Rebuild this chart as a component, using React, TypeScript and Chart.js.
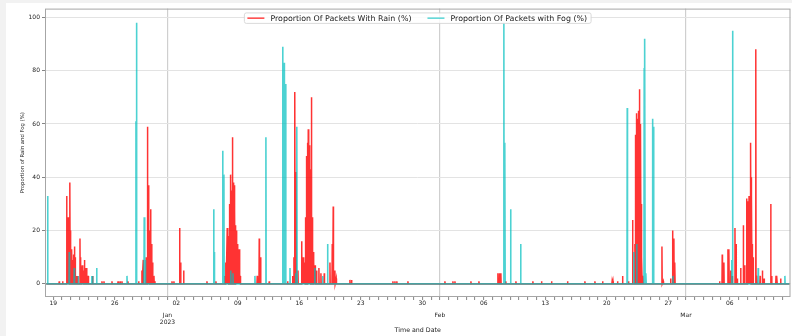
import React, { useEffect, useRef } from "react";
import { Chart, registerables } from "chart.js";

Chart.register(...registerables);

// x values are days since 2022-12-19 00:00
const rainDays = [
  0.68, 1.07, 1.52, 1.58, 1.64, 1.7, 1.78, 1.9, 1.96, 2.01, 2.07, 2.13, 2.2, 2.28, 2.34, 2.39, 2.45, 2.5, 2.66, 2.77,
  3.04, 3.1, 3.15, 3.22, 3.3, 3.41, 3.53, 3.6, 3.68, 3.8, 3.98,
  4.48, 5.54, 5.77, 6.68, 7.37, 7.6, 7.82, 8.5,
  9.72, 10.09, 10.24, 10.58, 10.7, 10.81, 10.92, 11.08, 11.2, 11.31, 11.46, 11.57,
  13.51, 13.73, 14.38, 14.5, 14.84, 17.49, 18.51,
  19.54, 19.65, 19.8, 19.91, 19.95, 20.03, 20.07, 20.11, 20.16, 20.22, 20.27, 20.33, 20.37, 20.41, 20.47, 20.52,
  20.56, 20.6, 20.64, 20.68, 20.72, 20.76, 20.81, 20.87, 20.93, 20.99, 21.05, 21.1, 21.16, 21.21, 21.28,
  23.21, 23.44, 23.6, 24.58, 26.67,
  27.24, 27.39, 27.5, 27.62, 27.85,
  28.26, 28.3, 28.45, 28.55, 28.64, 28.7, 28.76, 28.8, 28.83, 28.86, 28.9, 28.96, 29.02, 29.07, 29.13, 29.18, 29.24,
  29.28, 29.32, 29.36, 29.4, 29.45, 29.52, 29.6, 29.67, 29.8, 29.97, 30.23, 30.46, 30.84,
  31.49, 31.75, 31.86, 32.05, 32.2,
  33.76, 33.95, 38.65, 38.88, 39.1, 40.36, 44.57, 45.48, 45.71, 47.53, 48.44, 50.6, 50.77, 50.94, 51.5, 52.65,
  54.58, 55.57, 56.71, 58.53, 60.5, 61.64, 62.52, 63.6, 63.7, 64.22, 64.79, 65.47,
  65.93, 66.19, 66.25, 66.31, 66.35, 66.38, 66.42, 66.45, 66.5, 66.54, 66.57, 66.6, 66.64, 66.68, 66.72, 66.76,
  66.79, 66.82, 66.87, 66.93, 66.99, 67.1,
  69.27, 69.42, 70.26, 70.48, 70.63, 70.74,
  75.83, 76.13, 76.32, 76.78, 76.9, 77.09, 77.28, 77.58, 77.7, 77.85, 78.23, 78.53, 78.69, 78.92, 79.0, 79.07,
  79.12, 79.18, 79.25, 79.31, 79.38, 79.44, 79.49, 79.55, 79.64, 79.95, 80.06, 80.44, 80.7, 80.89, 81.65, 81.76,
  82.25, 82.36, 82.78,
];
const rainValues = [
  1, 1, 33, 20, 18, 25, 15, 38, 20, 12, 8, 13, 9, 10, 11, 14, 8, 10, 3, 3,
  17, 10, 7, 5, 7, 5, 9, 4, 6, 6, 3,
  3, 1, 1, 1, 1, 1, 1, 1,
  1, 5, 9, 10, 59, 37, 20, 28, 15, 8, 3, 1,
  1, 1, 21, 8, 5, 1, 1,
  3, 8, 21, 12, 18, 30, 25, 20, 33, 41, 30, 35, 45, 55, 38, 25,
  30, 37, 20, 28, 22, 17, 12, 20, 15, 8, 12, 6, 13, 7, 3,
  3, 17, 10, 1, 1,
  3, 10, 72, 42, 5,
  16, 12, 10, 8, 5, 20, 25, 35, 44, 48, 53, 40, 58, 55, 52, 47, 43,
  38, 30, 50, 70, 25, 10, 12, 8, 7, 5, 6, 4, 4,
  8, 15, 29, 5, 2,
  1.5, 1.5, 1, 1, 1, 1, 1, 1, 1, 1, 1, 4, 4, 4, 1, 1,
  1, 1, 1, 1, 1, 1, 1, 1, 1, 1, 3, 1,
  24, 15, 30, 56, 48, 64, 58, 40, 55, 62, 60, 65, 58, 50, 62, 73,
  55, 45, 60, 30, 10, 3,
  14, 1, 2, 20, 17, 8,
  1, 11, 8, 13, 13, 5, 3, 21, 15, 2, 6, 22, 7, 32, 20, 31,
  25, 33, 22, 30, 53, 40, 33, 15, 10, 88, 3, 3, 5, 2, 30, 3,
  3, 3, 2,
];

const fogDays = [
  -0.64, 1.82, 2.39, 2.85, 4.37, 4.48, 4.94, 8.39, 9.41, 9.49, 10.35, 10.47,
  18.25, 18.32, 19.28, 19.42, 20.2, 20.45, 22.95, 24.2,
  26.1, 26.17, 26.29, 26.45, 26.94, 27.6, 27.73, 29.77, 30.65, 31.22,
  51.28, 51.4, 52.05, 53.19,
  65.32, 66.08, 66.4, 67.25, 67.33, 67.45, 68.2, 68.32, 70.52,
  77.2, 77.31, 80.22, 83.26,
];
const fogValues = [
  33, 12, 6, 3, 3, 3, 6, 3, 61, 98, 25, 9,
  28, 12, 50, 41, 5, 4, 3, 55,
  89, 45, 83, 75, 6, 4, 59, 6, 3, 15,
  98, 53, 28, 15,
  66, 12, 15, 81, 92, 4, 62, 59, 3,
  9, 95, 6, 3,
];

const seriesStart = -0.8;
const seriesEnd = 83.8;

const weekTickDays = [0, 7, 14, 21, 28, 35, 42, 49, 56, 63, 70, 77];
const weekTickLabels = ["19", "26", "02", "09", "16", "23", "30", "06", "13", "20", "27", "06"];
const monthTickDays = [13, 44, 72];
const monthTickLabels = [["Jan", "2023"], ["Feb"], ["Mar"]];
const yTicks = [0, 20, 40, 60, 80, 100];

const seriesLabels = ["Proportion Of Packets With Rain (%)", "Proportion Of Packets with Fog (%)"];
const xTitle = "Time and Date";
const yTitle = "Proportion of Rain and Fog (%)";

const FONT = "'DejaVu Sans', sans-serif";

function buildSeries(days: number[], values: number[]) {
  const pts: { x: number; y: number }[] = [{ x: seriesStart, y: 0 }];
  days.forEach((d, i) => {
    pts.push({ x: d - 0.03, y: 0 }, { x: d, y: values[i] }, { x: d + 0.03, y: 0 });
  });
  pts.push({ x: seriesEnd, y: 0 });
  return pts.sort((a, b) => a.x - b.x);
}

const frameLegendPlugin = {
  id: "frameLegend",
  afterDatasetsDraw(chart: any) {
    const { ctx, chartArea: a } = chart;
    ctx.save();
    ctx.strokeStyle = "#a6a6a6";
    ctx.lineWidth = 1;
    ctx.strokeRect(a.left + 0.5, a.top + 0.5, a.right - a.left - 1, a.bottom - a.top - 1);

    ctx.font = `7.9px ${FONT}`;
    const items = chart.data.datasets.map((ds: any) => ({ label: ds.label, color: ds.legendColor }));
    const lineLen = 17, gap = 6, itemGap = 16, padL = 3, padR = 4;
    const widths = items.map((it: any) => ctx.measureText(it.label).width);
    let total = padL + padR + itemGap * (items.length - 1);
    items.forEach((_: any, i: number) => (total += lineLen + gap + widths[i]));
    const cx = (a.left + a.right) / 2;
    const left = cx - total / 2;
    const top = a.top + 4.3;
    const h = 10.5;
    const cy = top + h / 2;
    ctx.beginPath();
    (ctx as any).roundRect(left, top, total, h, 2);
    ctx.fillStyle = "rgba(255,255,255,0.85)";
    ctx.fill();
    ctx.strokeStyle = "#d0d0d0";
    ctx.lineWidth = 0.8;
    ctx.stroke();
    let x = left + padL;
    items.forEach((it: any, i: number) => {
      ctx.beginPath();
      ctx.strokeStyle = it.color;
      ctx.lineWidth = 1.4;
      ctx.moveTo(x, cy);
      ctx.lineTo(x + lineLen, cy);
      ctx.stroke();
      x += lineLen + gap;
      ctx.fillStyle = "#222";
      ctx.textAlign = "left";
      ctx.textBaseline = "middle";
      ctx.fillText(it.label, x, cy + 0.5);
      x += widths[i] + itemGap;
    });
    ctx.restore();
  },
};

export default function App() {
  const ref = useRef<HTMLCanvasElement | null>(null);
  useEffect(() => {
    if (!ref.current) return;
    const chart = new Chart(ref.current, {
      type: "line",
      data: {
        datasets: [
          {
            label: seriesLabels[0],
            data: buildSeries(rainDays, rainValues),
            borderColor: "rgba(255,0,0,0.8)",
            legendColor: "rgba(255,0,0,0.8)",
            borderWidth: 1.5,
            pointRadius: 0,
            tension: 0,
            order: 2,
          } as any,
          {
            label: seriesLabels[1],
            data: buildSeries(fogDays, fogValues),
            borderColor: "rgba(0,191,191,0.7)",
            legendColor: "rgba(0,191,191,0.7)",
            borderWidth: 1.6,
            pointRadius: 0,
            tension: 0,
            order: 1,
          } as any,
        ],
      },
      options: {
        responsive: false,
        animation: false,
        events: [],
        layout: { padding: { left: 0, top: 2, right: 1.5, bottom: 0 } },
        plugins: { legend: { display: false }, tooltip: { enabled: false } },
        scales: {
          x: {
            type: "linear",
            min: -0.94,
            max: 83.9,
            afterBuildTicks: (s: any) => {
              const t: { value: number }[] = [];
              for (let d = 0; d <= 83; d++) t.push({ value: d });
              s.ticks = t;
            },
            afterFit: (s: any) => {
              s.height = 39;
            },
            ticks: {
              autoSkip: false,
              maxRotation: 0,
              minRotation: 0,
              padding: 0,
              color: "#222",
              font: { family: FONT, size: 6, lineHeight: 1.06 },
              callback: (v: any) => {
                const wi = weekTickDays.indexOf(v);
                if (wi >= 0) return weekTickLabels[wi];
                const mi = monthTickDays.indexOf(v);
                if (mi >= 0) return ["", "", ...monthTickLabels[mi]];
                return "";
              },
            },
            grid: {
              color: (c: any) => (c.tick && monthTickDays.includes(c.tick.value) ? "#cfcfcf" : "rgba(0,0,0,0)"),
              lineWidth: 1.2,
              tickColor: "#666",
              tickLength: 3,
              tickWidth: 0.8,
            },
            border: { display: false },
            title: {
              display: true,
              text: xTitle,
              color: "#222",
              font: { family: FONT, size: 6.3 },
              padding: { top: 0, bottom: 2 },
            },
          },
          y: {
            min: -4.92,
            max: 103.3,
            afterBuildTicks: (s: any) => {
              s.ticks = yTicks.map((v) => ({ value: v }));
            },
            afterFit: (s: any) => {
              s.width = 39;
            },
            ticks: {
              padding: 2,
              color: "#222",
              font: { family: FONT, size: 6 },
            },
            grid: { color: "#e3e3e3", lineWidth: 1, tickColor: "#666", tickLength: 3, tickWidth: 0.8 },
            border: { display: false },
            title: {
              display: true,
              text: yTitle,
              color: "#222",
              font: { family: FONT, size: 5.3 },
              padding: { top: 13, bottom: 0 },
            },
          },
        },
      } as any,
      plugins: [frameLegendPlugin],
    });
    return () => chart.destroy();
  }, []);

  return (
    <div style={{ position: "fixed", left: 0, top: 0, width: 792, height: 336, background: "#f2f2f2" }}>
      <div style={{ position: "absolute", left: 6, top: 3, width: 786, height: 333, background: "#ffffff" }}>
        <canvas ref={ref} width={786} height={333} style={{ display: "block" }} />
      </div>
    </div>
  );
}
